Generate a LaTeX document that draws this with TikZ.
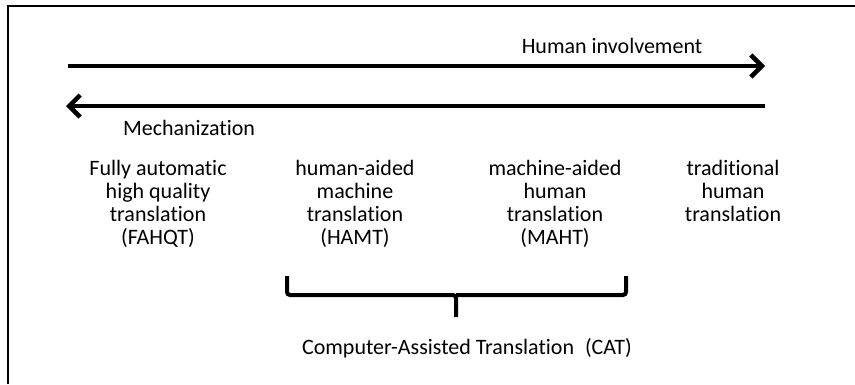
\documentclass[tikz,border=0pt]{standalone}
\usepackage{fontspec}
\setmainfont{Carlito}[Ligatures=NoCommon]
\usetikzlibrary{arrows.meta}
\usetikzlibrary{positioning}

\begin{document}
\begin{tikzpicture}[x=1pt,y=-1pt,
    axis/.style={line width=4pt, -{Straight Barb[length=11pt,width=22pt,line width=4.5pt]}},
    label/.style={font=\fontsize{22}{23}\selectfont, align=center, inner sep=0pt},
    bracket/.style={line width=4pt, rounded corners=3pt}]
    \useasboundingbox (0,0) rectangle (855,384);
    % frame
    \draw[line width=1.6pt] (8,384) -- (8,6) -- (855,6);

    % the two arrows
    \coordinate (hl) at (68,66);
    \coordinate (hr) at (765,66);
    \coordinate (ml) at (66,106);
    \coordinate (mr) at (765,106);
    \draw[axis] (hl) -- (hr);
    \draw[axis] (mr) -- (ml);
    \node[label] (human) at (612,46) {Human involvement};
    \node[label] (mech) at (189,128) {Mechanization};

    % the four kinds of translation
    \node[label, anchor=north] (fahqt) at (158,160) {Fully automatic\\high quality\\translation\\(FAHQT)};
    \node[label, anchor=north] (hamt) at (355,160) {human-aided\\machine\\translation\\(HAMT)};
    \node[label, anchor=north] (maht) at (555,160) {machine-aided\\human\\translation\\(MAHT)};
    \node[label, anchor=north] (trad) at (733,160) {traditional\\human\\translation};

    % brace
    \coordinate (bl) at (287,276);
    \coordinate (br) at (626,276);
    \coordinate (bm) at (456,295);
    \coordinate (bt) at (456,317);
    \draw[bracket] (bl) -- (bl |- bm) -- (bm) -- (bt);
    \draw[bracket] (bm) -- (br |- bm) -- (br);
    \node[label] (cat) at (467,348) {Computer-Assisted Translation\enspace(CAT)};

\end{tikzpicture}
\end{document}
